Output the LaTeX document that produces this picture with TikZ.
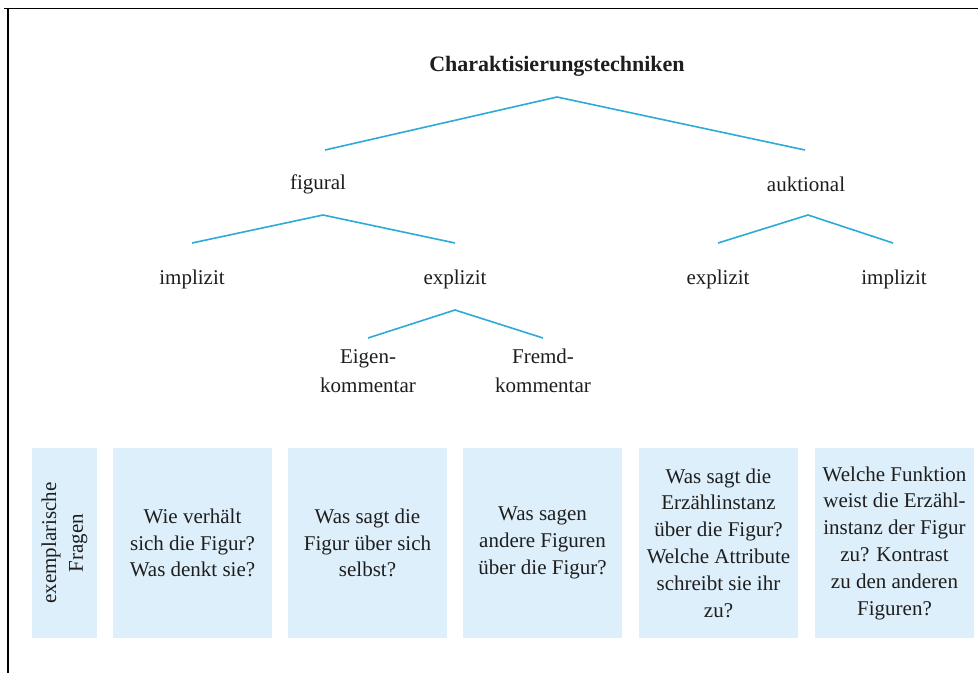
\documentclass[tikz,border=0pt]{standalone}
\usepackage{fontspec}
\setmainfont{Liberation Serif}
\definecolor{treeline}{RGB}{45,170,215}
\definecolor{boxfill}{RGB}{221,239,250}
\definecolor{ink}{RGB}{30,30,30}
\begin{document}
\begin{tikzpicture}[x=1pt,y=-1pt,
  lbl/.style={font=\fontsize{21}{29}\selectfont, text=ink, inner sep=0pt, align=center},
  branch/.style={draw=treeline, line width=1.6pt},
  qbox/.style={fill=boxfill, minimum width=159pt, minimum height=190pt, align=center,
    font=\fontsize{21}{26.8}\selectfont, text=ink, inner sep=0pt},
  frameline/.style={draw=black, line width=1.6pt}]
\useasboundingbox (0,0) rectangle (978,673);
\fill[white] (0,0) rectangle (978,673);
\coordinate (fa) at (4,8.5);
\coordinate (fb) at (978,8.5);
\coordinate (fc) at (8,8.5);
\coordinate (fd) at (8,673);
\draw[frameline] (fa) -- (fb);
\draw[frameline] (fc) -- (fd);

% tree labels
\node[lbl, font=\fontsize{22}{28}\selectfont\bfseries] (title) at (557,66) {Charaktisierungstechniken};
\node[lbl] (figural) at (318,184) {figural};
\node[lbl] (auktional) at (806,184) {auktional};
\node[lbl] (fimpl) at (192,279) {implizit};
\node[lbl] (fexpl) at (455,279) {explizit};
\node[lbl] (aexpl) at (718,279) {explizit};
\node[lbl] (aimpl) at (894,279) {implizit};
\node[lbl] (eigen) at (368,371) {Eigen-\\kommentar};
\node[lbl] (fremd) at (543,371) {Fremd-\\kommentar};

% branch points
\coordinate (t0) at (557,97);
\coordinate (t1) at (325,150);
\coordinate (t2) at (805,150);
\coordinate (f0) at (323,215);
\coordinate (f1) at (192,243);
\coordinate (f2) at (455,243);
\coordinate (a0) at (808,215);
\coordinate (a1) at (718,243);
\coordinate (a2) at (893,243);
\coordinate (e0) at (455,310);
\coordinate (e1) at (368,338);
\coordinate (e2) at (543,338);

\draw[branch] (t1) -- (t0) -- (t2);
\draw[branch] (f1) -- (f0) -- (f2);
\draw[branch] (a1) -- (a0) -- (a2);
\draw[branch] (e1) -- (e0) -- (e2);

% question boxes
\node[qbox, minimum width=190pt, minimum height=65pt, rotate=90] (q0) at (64.5,543) {exemplarische\\Fragen};
\node[qbox] (q1) at (192.5,543) {Wie verhält\\sich die Figur?\\Was denkt sie?};
\node[qbox] (q2) at (367.5,543) {Was sagt die\\Figur über sich\\selbst?};
\node[qbox] (q3) at (542.5,543) {Was sagen\\andere Figuren\\über die Figur?};
\node[qbox] (q4) at (718.5,543) {Was sagt die\\Erzählinstanz\\über die Figur?\\Welche Attribute\\schreibt sie ihr\\zu?};
\node[qbox] (q5) at (894.5,543) {Welche Funktion\\weist die Erzähl-\\instanz der Figur\\zu? Kontrast\\zu den anderen\\Figuren?};
\end{tikzpicture}
\end{document}
